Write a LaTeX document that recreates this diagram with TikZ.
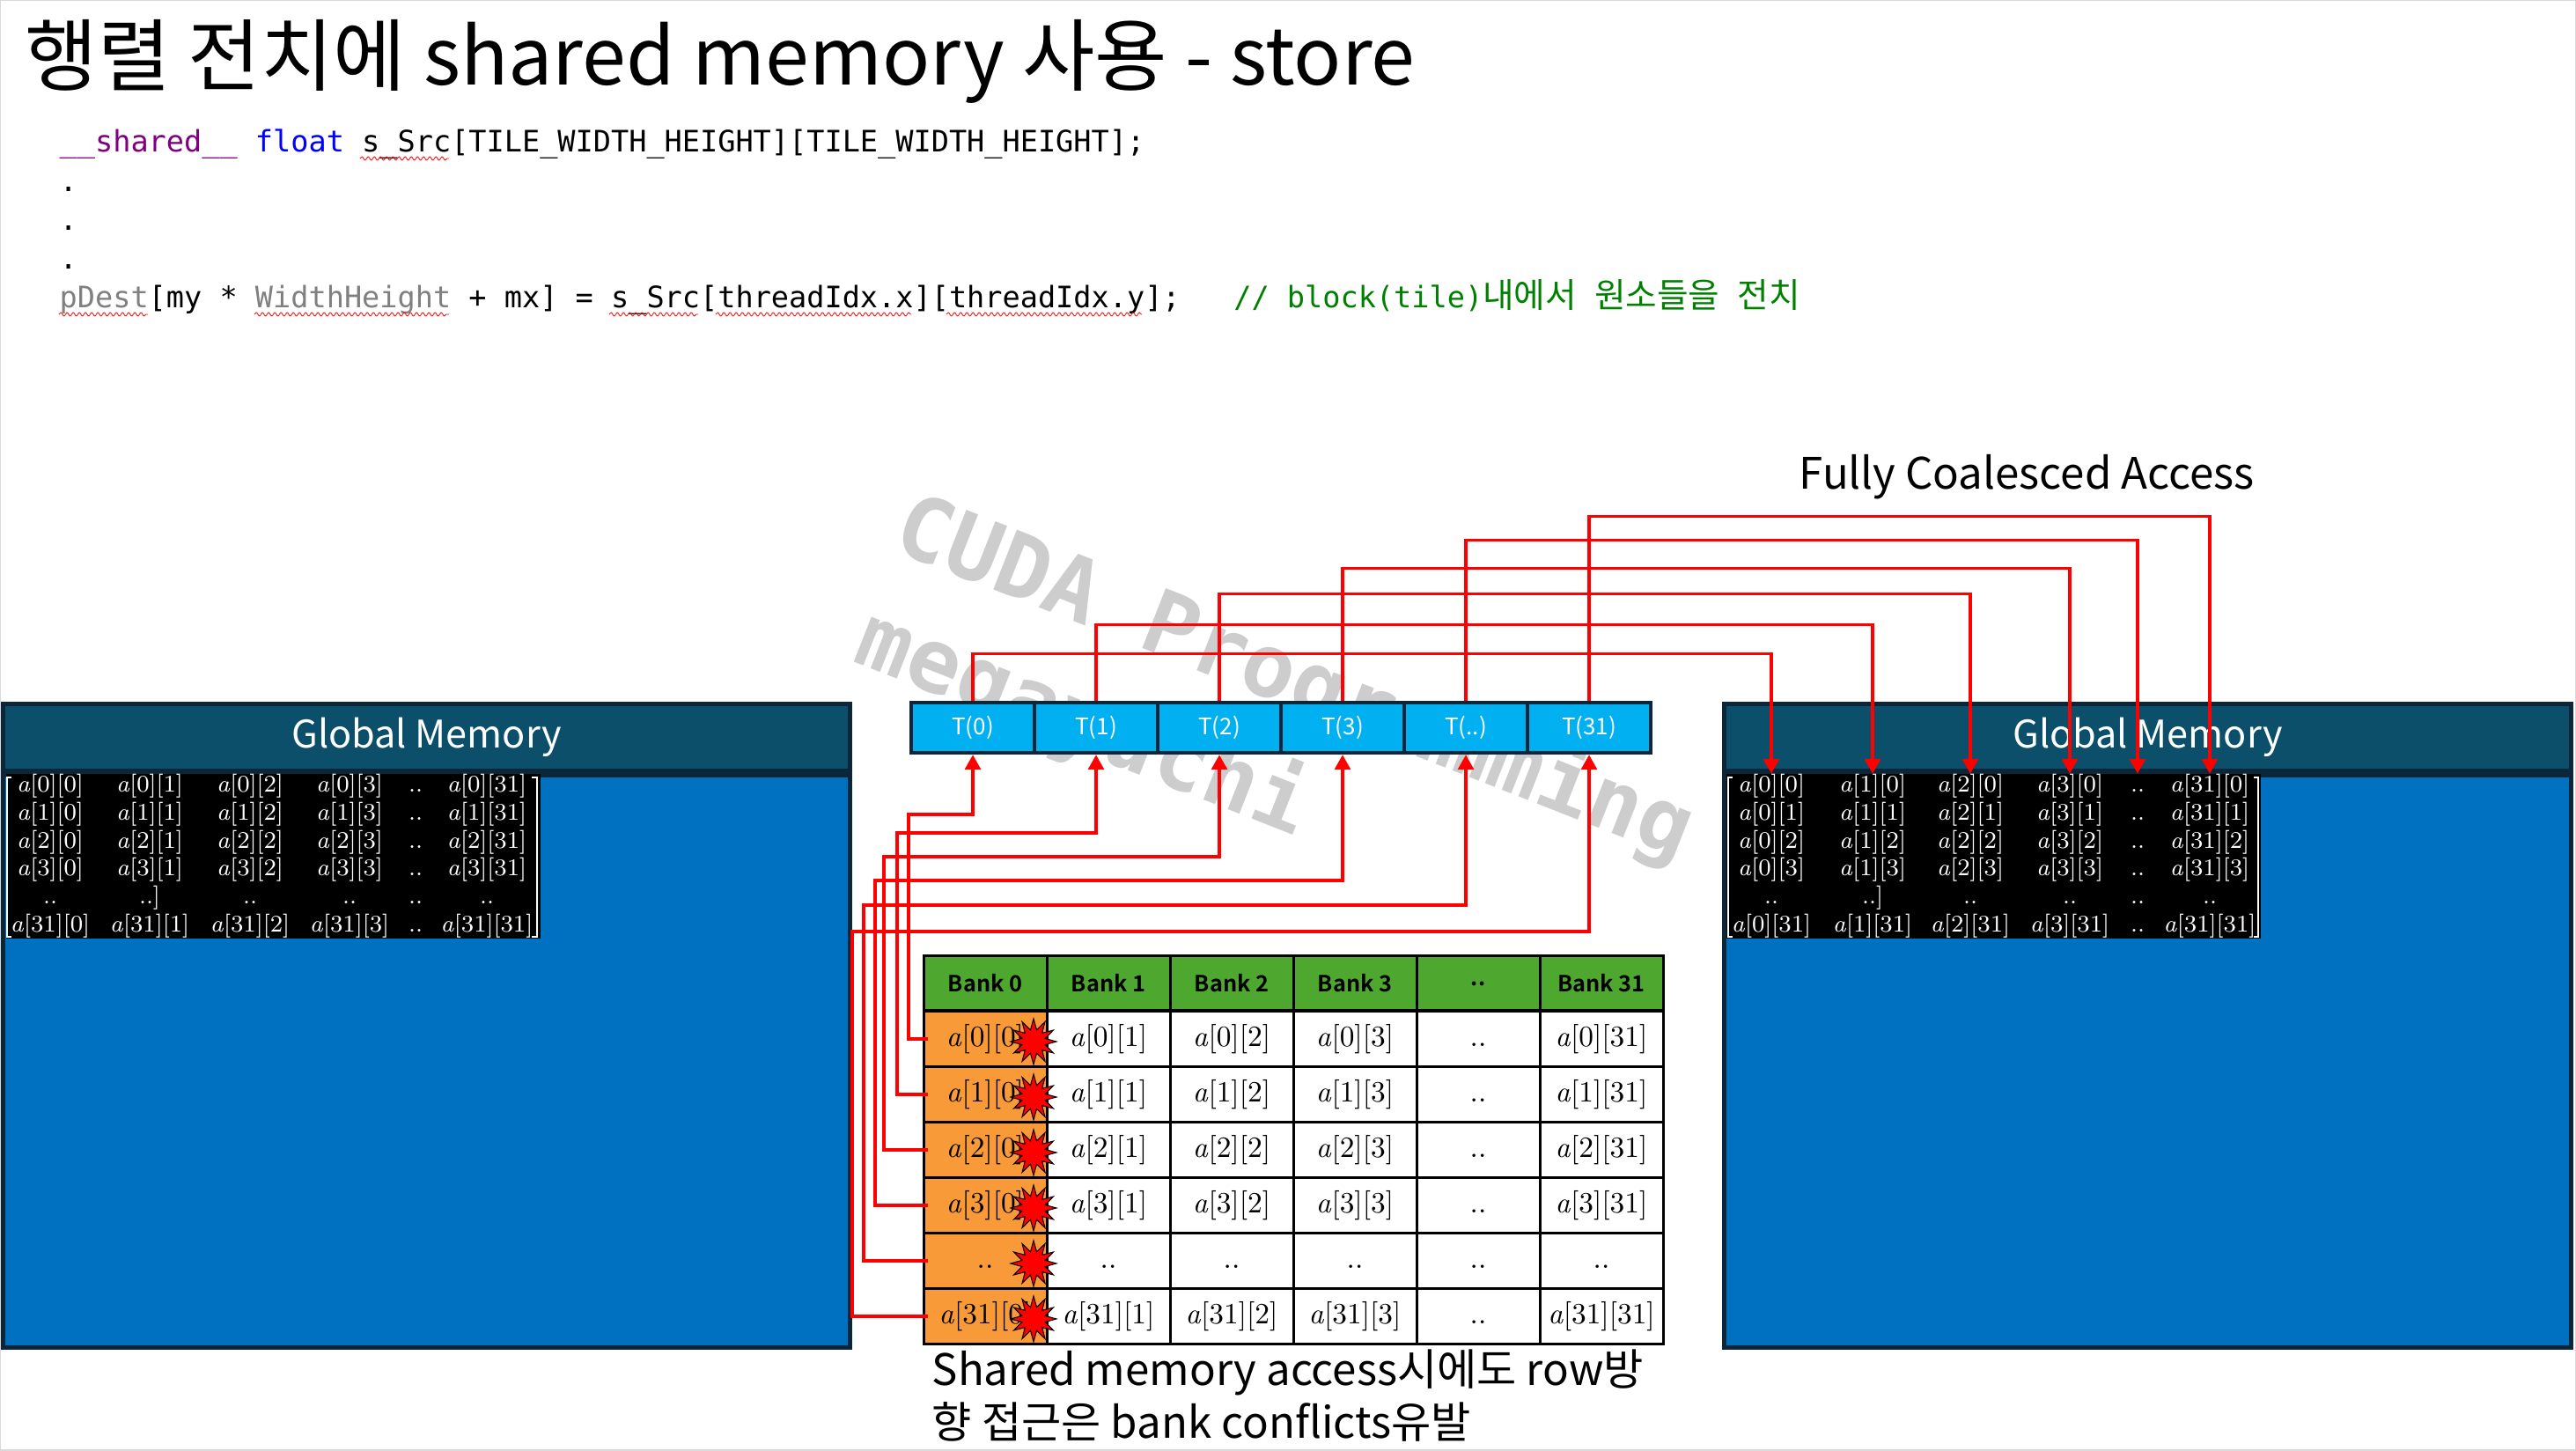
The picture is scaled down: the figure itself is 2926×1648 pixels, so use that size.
\documentclass[tikz,border=0pt]{standalone}
\usepackage{fontspec}
\usepackage{tikz}
\usetikzlibrary{arrows.meta,positioning,shapes.geometric,decorations.pathmorphing}
\newfontfamily\krfont{Noto Sans CJK KR}
\newfontfamily\krbold{Noto Sans CJK KR Bold}
\newfontfamily\codefont{DejaVu Sans Mono}
\definecolor{gmdark}{HTML}{0A2638}
\definecolor{gmhead}{HTML}{0B4F6A}
\definecolor{gmblue}{HTML}{0070C0}
\definecolor{thrblue}{HTML}{00B0F0}
\definecolor{bankgreen}{HTML}{4EA72E}
\definecolor{bankorange}{HTML}{F89A38}
\definecolor{kwpurple}{HTML}{800080}
\definecolor{kwblue}{HTML}{0000FF}
\definecolor{cmtgreen}{HTML}{008000}
\definecolor{wmgray}{HTML}{CDCDCD}
\newcommand{\elem}[2]{\textit{a}[#1][#2]}
\newcommand{\tcell}[4]{\ifnum#1=4 ..\else\ifnum#3=4 ..\else\elem{#2}{#4}\fi\fi}
\newcommand{\mcell}[4]{\ifnum#1=4 \ifnum#3=1 ..]\else ..\fi\else\tcell{#1}{#2}{#3}{#4}\fi}
\newcommand{\krc}[1]{{\krfont\fontsize{11pt}{12pt}\selectfont #1}}

\begin{document}
\begin{tikzpicture}[x=0.1mm,y=-0.1mm,
  gmhead/.style={draw=gmdark,line width=0.5mm,fill=gmhead,minimum width=96.2mm,minimum height=7.65mm,inner sep=0,text=white,font=\krfont\fontsize{12.3pt}{13pt}\selectfont},
  gmbody/.style={draw=gmdark,line width=0.5mm,fill=gmblue,minimum width=96.2mm,minimum height=64.95mm,inner sep=0},
  mat/.style={fill=black,minimum width=60.7mm,minimum height=18.7mm,inner sep=0},
  ent/.style={text=white,inner sep=0,text height=2mm,text depth=0.7mm,font=\fontsize{7.7pt}{8pt}\selectfont},
  thr/.style={draw=gmdark,line width=0.45mm,fill=thrblue,minimum width=14mm,minimum height=5.7mm,inner sep=0,text=white,font=\krfont\fontsize{7.4pt}{8pt}\selectfont},
  bank/.style={draw=black,line width=0.3mm,fill=bankgreen,minimum width=14mm,minimum height=6.2mm,inner sep=0,font=\krbold\fontsize{7.2pt}{8pt}\selectfont},
  cell/.style={draw=black,line width=0.3mm,minimum width=14mm,minimum height=6.3mm,inner sep=0,text height=2.5mm,text depth=0.85mm,font=\fontsize{9.5pt}{10pt}\selectfont},
  burst/.style={star,star points=12,star point ratio=1.9,fill=red,draw=black,line width=0.1mm,minimum size=5.2mm,inner sep=0},
  link/.style={draw=red,line width=0.34mm,-{Triangle[length=1.7mm,width=1.8mm]}},
  squig/.style={draw=red,line width=0.08mm,decorate,decoration={snake,amplitude=0.2mm,segment length=0.7mm}},
  code/.style={anchor=base west,inner sep=0,font=\codefont\fontsize{9.55pt}{10pt}\selectfont},
  wm/.style={text=wmgray,inner sep=0,rotate=-21.5,font=\codefont\bfseries\fontsize{28.5pt}{30pt}\selectfont},
  label/.style={inner sep=0,font=\krfont\fontsize{14pt}{15pt}\selectfont}]
\useasboundingbox (0,0) rectangle (2926,1648);
\draw[gray!30,line width=0.3mm] (0,0) rectangle (2926,1648);

% watermark
\node[wm] (wm1) at (1470,772) {CUDA Programming};
\node[wm] (wm2) at (1230,822) {megayuchi};

% title and kernel code
\node[anchor=base west,inner sep=0,font=\krfont\fontsize{25.5pt}{27pt}\selectfont] (title) at (28,97) {행렬 전치에 shared memory 사용 - store};
\node[code] (line1) at (67,173) {\textcolor{kwpurple}{\_\_shared\_\_} \textcolor{kwblue}{float} s\_Src[TILE\_WIDTH\_HEIGHT][TILE\_WIDTH\_HEIGHT];};
\foreach \k in {1,2,3} \node[code] (dot\k) at (67,{173+44.3*\k}) {.};
\node[code] (line5) at (67,350) {\textcolor{gray}{pDest}[my * \textcolor{gray}{WidthHeight} + mx] = s\_Src[threadIdx.x][threadIdx.y];~~~\textcolor{cmtgreen}{// block(tile)\krc{내에서}~\krc{원소들을}~\krc{전치}}};
\foreach \a/\b/\y in {409/510/180,67/168/357,289/510/357,692/793/357,813/1035/357,1075/1297/357}
  \draw[squig] (\a,\y) -- (\b,\y);

% global memory (source)
\node[gmhead] (gmL) at (484.5,837.75) {Global Memory};
\node[gmbody,below=0pt of gmL] (gmLb) {};
\node[mat] (lmat) at (310.5,972.5) {};
\foreach \r/\rn in {0/0,1/1,2/2,3/3,4/..,5/31}
  \foreach \c/\cn/\x in {0/0/57,1/1/170,2/2/284,3/3/397,4/../472,5/31/553}
    \node[ent] (L-\r-\c) at (\x,{893+31.8*\r}) {\mcell{\r}{\rn}{\c}{\cn}};
\draw[white,line width=0.12mm] (13,883) -- (8,883) -- (8,1064) -- (13,1064);
\draw[white,line width=0.12mm] (604,883) -- (610,883) -- (610,1064) -- (604,1064);

% global memory (destination)
\node[gmhead] (gmR) at (2439.5,837.75) {Global Memory};
\node[gmbody,below=0pt of gmR] (gmRb) {};
\node[mat] (rmat) at (2264.5,973) {};
\foreach \r/\rn in {0/0,1/1,2/2,3/3,4/..,5/31}
  \foreach \c/\cn/\x in {0/0/2012,1/1/2127,2/2/2238,3/3/2351,4/../2428,5/31/2510}
    \node[ent] (R-\r-\c) at (\x,{893+31.8*\r}) {\mcell{\r}{\cn}{\c}{\rn}};
\draw[white,line width=0.12mm] (1968,883) -- (1963,883) -- (1963,1064) -- (1968,1064);
\draw[white,line width=0.12mm] (2560,883) -- (2565,883) -- (2565,1064) -- (2560,1064);

% threads
\foreach \i/\lab in {0/{T(0)},1/{T(1)},2/{T(2)},3/{T(3)},4/{T(..)},5/{T(31)}}
  \node[thr] (t\i) at ({1105+140*\i},826.5) {\lab};

% shared memory banks
\foreach \c/\lab in {0/Bank 0,1/Bank 1,2/Bank 2,3/Bank 3,4/..,5/Bank 31}
  \node[bank] (h\c) at ({1119+140*\c},1117) {\lab};
\foreach \r/\rn in {0/0,1/1,2/2,3/3,4/..,5/31}
  \foreach \c/\cn in {0/0,1/1,2/2,3/3,4/..,5/31} {
    \ifnum\c=0 \def\fc{bankorange}\else\def\fc{white}\fi
    \node[cell,fill=\fc] (s\r-\c) at ({1119+140*\c},{1180+63*\r}) {\tcell{\r}{\rn}{\c}{\cn}};
  }
\foreach \r in {0,...,5} \node[burst] (x\r) at (1174,{1183+63*\r}) {};

% shared -> threads
\foreach \r/\vx/\ly in {0/1032/925,1/1019/946,2/1004/973,3/994/1000,4/981/1028,5/968/1058}
  \draw[link] ([xshift=0.6mm]s\r-0.west) -| (\vx,\ly) -| (t\r.south);
% threads -> global memory
\foreach \i/\dy in {0/53.5,1/86.5,2/121.5,3/150.5,4/182.5,5/209.5}
  \draw[link] (t\i.north) -- ++(0,-\dy) -| (R-0-\i |- rmat.north);

\node[label,anchor=base west] (fca) at (2043,556) {Fully Coalesced Access};
\node[label,anchor=base west] (note1) at (1058,1574) {Shared memory access시에도 row방};
\node[label,anchor=base west] (note2) at (1058,1634) {향 접근은 bank conflicts유발};
\end{tikzpicture}
\end{document}
